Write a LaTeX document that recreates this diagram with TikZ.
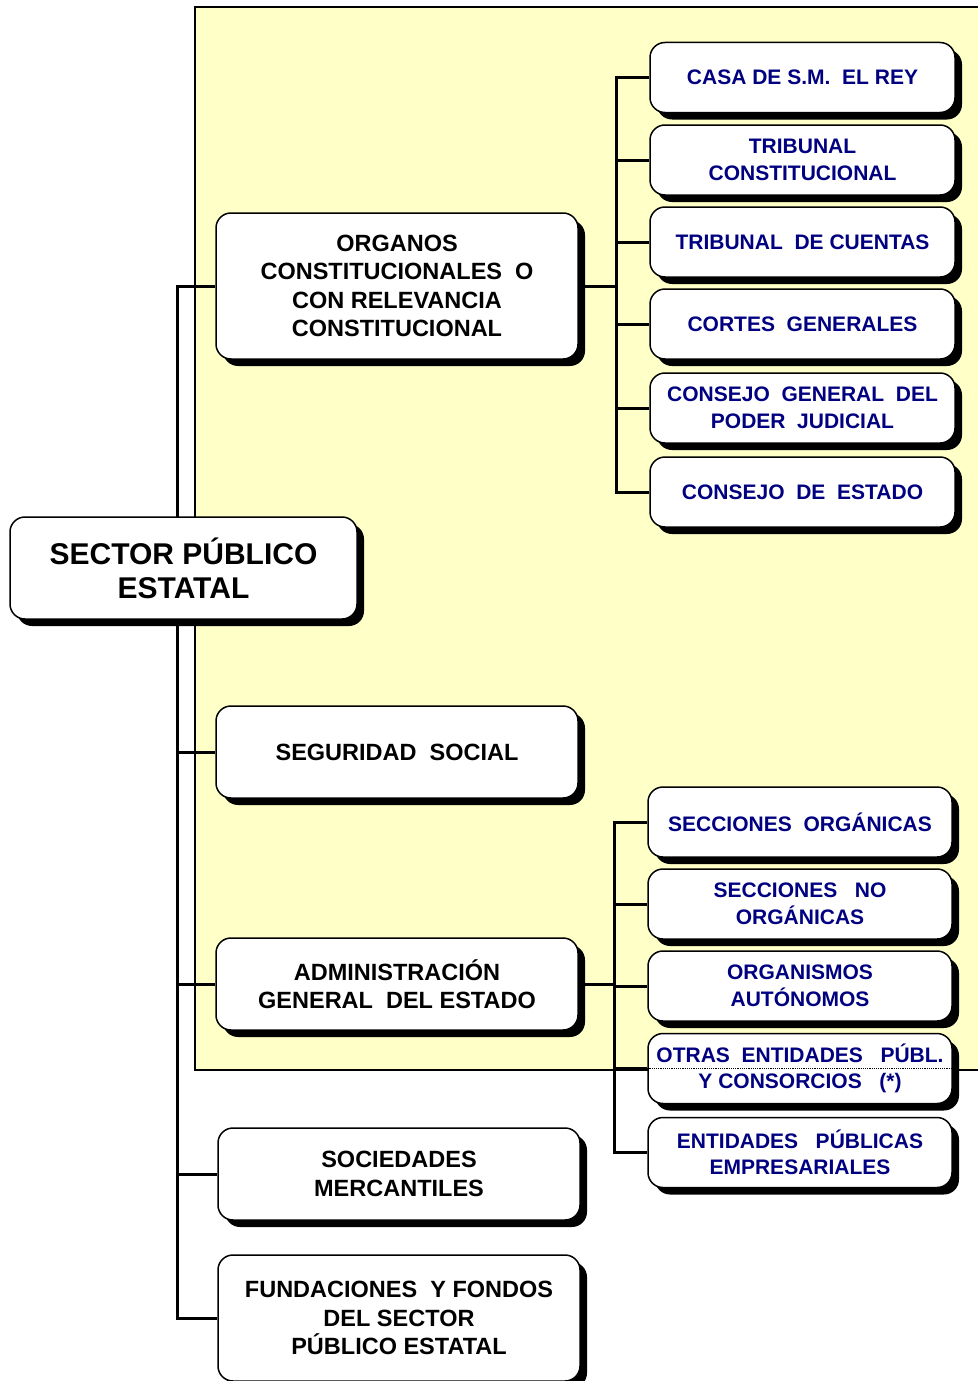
\documentclass[tikz,border=0pt]{standalone}
\usepackage{fontspec}
\setmainfont{Liberation Sans}
\usetikzlibrary{shadows}
\definecolor{amarillo}{RGB}{255,255,200}
\definecolor{azuloscuro}{RGB}{0,0,128}
\pgfdeclarelayer{fondo}
\pgfdeclarelayer{lineas}
\pgfsetlayers{fondo,lineas,main}
\tikzset{
  caja/.style={draw, line width=1.5pt, fill=white, rounded corners=15pt, align=center, inner sep=0pt,
    drop shadow={shadow xshift=7pt, shadow yshift=-7pt, fill=black, opacity=1}},
  raiz/.style={caja, minimum width=347pt, minimum height=102pt, font=\fontsize{30}{34}\selectfont\bfseries},
  nivel/.style={caja, minimum width=362pt, font=\fontsize{23.5}{28.5}\selectfont\bfseries},
  hoja/.style={caja, minimum width=305pt, minimum height=70pt, text=azuloscuro, font=\fontsize{21}{26.5}\selectfont\bfseries},
  rama/.style={line width=3pt}
}
\begin{document}
\begin{tikzpicture}[x=1pt,y=-1pt]
  \useasboundingbox (0,0) rectangle (977,1381);
  \coordinate (tronco) at (177,0);
  \coordinate (ejeA) at (616,0);
  \coordinate (ejeB) at (614,0);

  \node[raiz] (sector) at (183.5,568) {SECTOR PÚBLICO\\ESTATAL};

  \node[nivel, minimum height=146pt] (organos) at (397,286) {ORGANOS\\CONSTITUCIONALES~ O\\CON RELEVANCIA\\CONSTITUCIONAL};
  \node[nivel, minimum height=92pt] (seguridad) at (397,752) {SEGURIDAD~ SOCIAL};
  \node[nivel, minimum height=92pt] (admin) at (397,984) {ADMINISTRACIÓN\\GENERAL~ DEL ESTADO};
  \node[nivel, minimum height=92pt] (sociedades) at (399,1174) {SOCIEDADES\\MERCANTILES};
  \node[nivel, minimum height=126pt] (fundaciones) at (399,1318) {FUNDACIONES~ Y FONDOS\\DEL SECTOR\\PÚBLICO ESTATAL};

  \node[hoja] (casa) at (802.5,77.5) {CASA DE S.M.~ EL REY};
  \node[hoja] (tc) at (802.5,160) {TRIBUNAL\\CONSTITUCIONAL};
  \node[hoja] (tcu) at (802.5,242) {TRIBUNAL~ DE CUENTAS};
  \node[hoja] (cortes) at (802.5,324) {CORTES~ GENERALES};
  \node[hoja] (cgpj) at (802.5,408) {CONSEJO~ GENERAL~ DEL\\PODER~ JUDICIAL};
  \node[hoja] (ce) at (802.5,492) {CONSEJO~ DE~ ESTADO};

  \node[hoja, minimum width=304pt] (so) at (800,822) {SECCIONES~ ORGÁNICAS};
  \node[hoja, minimum width=304pt] (sno) at (800,904) {SECCIONES~~ NO\\ORGÁNICAS};
  \node[hoja, minimum width=304pt] (oa) at (800,986) {ORGANISMOS\\AUTÓNOMOS};
  \node[hoja, minimum width=304pt] (otras) at (800,1068.5) {OTRAS~ ENTIDADES~~ PÚBL.\\Y CONSORCIOS~~ (*)};
  \node[hoja, minimum width=304pt] (epe) at (800,1152.5) {ENTIDADES~~ PÚBLICAS\\EMPRESARIALES};
  \draw[line width=1.2pt, densely dotted] (otras.west) -- (otras.east);

  \begin{pgfonlayer}{fondo}
    \fill[amarillo] (195,7) rectangle (990,1070);
    \draw[line width=1.5pt] (990,7) -- (195,7) -- (195,1070) -- (990,1070);
  \end{pgfonlayer}

  \begin{pgfonlayer}{lineas}
    \draw[rama] (organos.west) -- (tronco|-organos.west) -- (tronco|-fundaciones.west) -- (fundaciones.west);
    \foreach \n in {seguridad,admin,sociedades}
      \draw[rama] (tronco|-\n.west) -- (\n.west);
    \draw[rama] (organos.east) -- (ejeA|-organos.east);
    \draw[rama] (casa.west) -- (ejeA|-casa.west) -- (ejeA|-ce.west) -- (ce.west);
    \foreach \n in {tc,tcu,cortes,cgpj}
      \draw[rama] (ejeA|-\n.west) -- (\n.west);
    \draw[rama] (admin.east) -- (ejeB|-admin.east);
    \draw[rama] (so.west) -- (ejeB|-so.west) -- (ejeB|-epe.west) -- (epe.west);
    \foreach \n in {sno,oa,otras}
      \draw[rama] (ejeB|-\n.west) -- (\n.west);
  \end{pgfonlayer}
\end{tikzpicture}
\end{document}
